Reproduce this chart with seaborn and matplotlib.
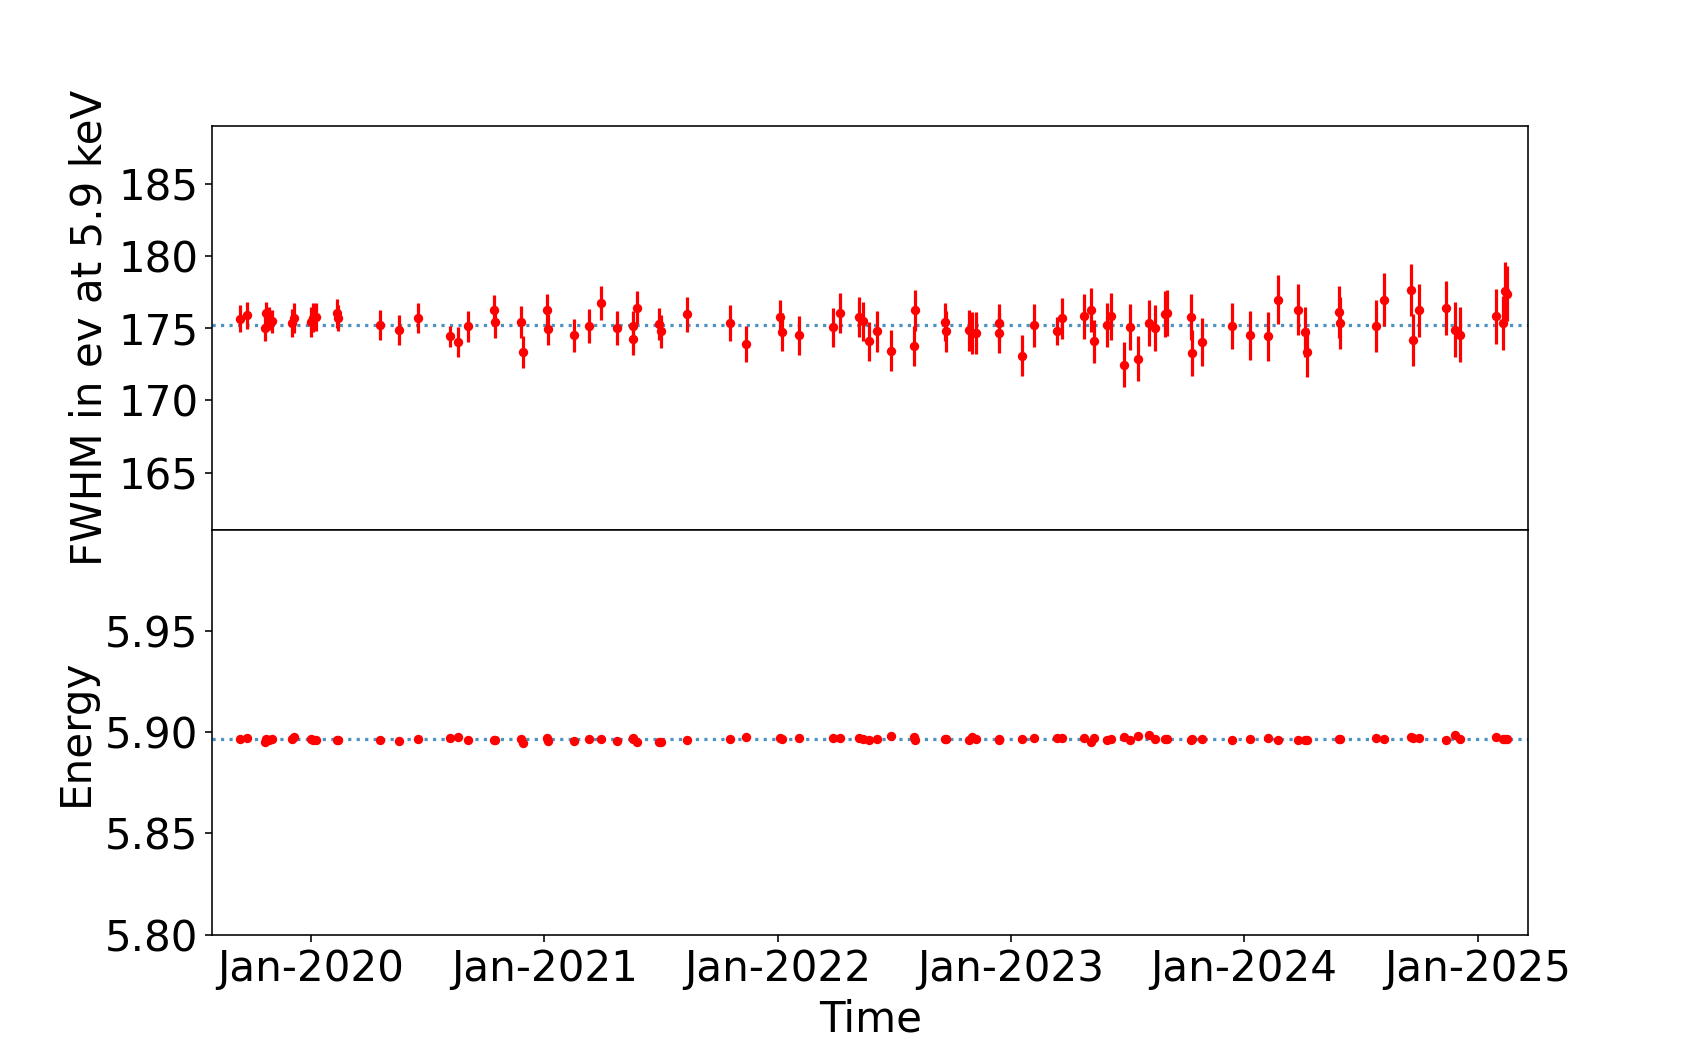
import pandas as pd
import numpy as np
import seaborn as sns
import matplotlib
matplotlib.use("Agg")
import matplotlib.pyplot as plt
import matplotlib.dates as mdates

dates = ['2019-09-12', '2019-09-24', '2019-10-23', '2019-10-22', '2019-10-28', '2019-11-01',
         '2019-12-03', '2019-12-06', '2020-01-01', '2020-01-05', '2020-01-10', '2020-02-11',
         '2020-02-13', '2020-04-19', '2020-05-18', '2020-06-17', '2020-08-06', '2020-08-19',
         '2020-09-03', '2020-10-14', '2020-10-15', '2020-11-25', '2020-11-29', '2021-01-05',
         '2021-01-07', '2021-02-16', '2021-03-11', '2021-03-30', '2021-04-24', '2021-05-19',
         '2021-05-20', '2021-05-26', '2021-06-30', '2021-07-02', '2021-08-12', '2021-10-18',
         '2021-11-13', '2022-01-04', '2022-01-08', '2022-02-04', '2022-03-29', '2022-04-08',
         '2022-05-08', '2022-05-15', '2022-05-24', '2022-06-06', '2022-06-28', '2022-08-02',
         '2022-08-04', '2022-09-20', '2022-09-22', '2022-10-28', '2022-11-01', '2022-11-08',
         '2022-12-13', '2022-12-14', '2023-01-18', '2023-02-07', '2023-03-15', '2023-03-22',
         '2023-04-25', '2023-05-07', '2023-05-12', '2023-05-31', '2023-06-07', '2023-06-28',
         '2023-07-06', '2023-07-19', '2023-08-05', '2023-08-15', '2023-08-31', '2023-09-03',
         '2023-10-10', '2023-10-12', '2023-10-28', '2023-12-13', '2024-01-10', '2024-02-08',
         '2024-02-23', '2024-03-25', '2024-04-05', '2024-04-09', '2024-05-29', '2024-05-30',
         '2024-07-25', '2024-08-08', '2024-09-19', '2024-09-21', '2024-10-01', '2024-11-12',
         '2024-11-27', '2024-12-05', '2025-01-30', '2025-02-09', '2025-02-12', '2025-02-16']

fwhm = [175.65, 175.88, 176.04, 175.03, 175.65, 175.47, 175.35, 175.69, 175.42, 175.72,
        175.76, 176.04, 175.72, 175.23, 174.89, 175.69, 174.44, 174.03, 175.14, 176.23,
        175.42, 175.42, 173.33, 176.23, 174.91, 174.49, 175.14, 176.72, 175.00, 175.12,
        174.24, 176.42, 175.30, 174.77, 175.95, 175.37, 173.87, 175.76, 174.72, 174.49,
        175.07, 176.04, 175.76, 175.49, 174.10, 174.77, 173.45, 173.75, 176.23, 175.42,
        174.77, 174.84, 174.66, 174.66, 174.65, 175.35, 173.10, 175.19, 174.80, 175.69,
        175.81, 176.28, 174.08, 175.23, 175.81, 172.46, 175.07, 172.87, 175.37, 175.03,
        175.99, 176.04, 175.76, 173.26, 174.03, 175.12, 174.49, 174.42, 176.97, 176.28,
        174.72, 173.33, 176.11, 175.35, 175.12, 176.97, 177.67, 174.19, 176.23, 176.39,
        174.89, 174.54, 175.81, 175.35, 177.57, 177.39]

fwhm_err = [0.93, 0.96, 0.80, 0.93, 0.80, 0.80, 0.95, 1.04, 1.06, 1.00,
            0.97, 1.00, 0.90, 1.04, 1.05, 1.06, 0.74, 1.06, 1.08, 1.06,
            1.10, 1.13, 1.09, 1.10, 1.06, 1.15, 1.17, 1.18, 1.19, 1.10,
            1.11, 1.13, 1.10, 1.16, 1.20, 1.26, 1.25, 1.20, 1.30, 1.33,
            1.35, 1.40, 1.39, 1.35, 1.35, 1.39, 1.39, 1.37, 1.40, 1.30,
            1.40, 1.45, 1.43, 1.43, 1.39, 1.30, 1.45, 1.50, 1.00, 1.42,
            1.54, 1.53, 1.50, 1.53, 1.60, 1.55, 1.60, 1.56, 1.60, 1.59,
            1.60, 1.60, 1.60, 1.60, 1.65, 1.60, 1.70, 1.70, 1.70, 1.76,
            1.74, 1.71, 1.79, 1.80, 1.80, 1.83, 1.80, 1.80, 1.83, 1.90,
            1.90, 1.92, 1.88, 1.88, 2.00, 1.93]

energy = [5.8967, 5.8970, 5.8967, 5.8954, 5.8962, 5.8967, 5.8967, 5.8975, 5.8967, 5.8964,
          5.8962, 5.8964, 5.8964, 5.8960, 5.8959, 5.8965, 5.8972, 5.8977, 5.8964, 5.8964,
          5.8962, 5.8967, 5.8949, 5.8974, 5.8959, 5.8957, 5.8969, 5.8969, 5.8959, 5.8972,
          5.8967, 5.8952, 5.8950, 5.8952, 5.8964, 5.8969, 5.8975, 5.8970, 5.8968, 5.8970,
          5.8974, 5.8970, 5.8972, 5.8968, 5.8960, 5.8965, 5.8982, 5.8979, 5.8962, 5.8969,
          5.8967, 5.8962, 5.8979, 5.8969, 5.8964, 5.8967, 5.8969, 5.8972, 5.8972, 5.8972,
          5.8972, 5.8954, 5.8974, 5.8964, 5.8969, 5.8975, 5.8962, 5.8982, 5.8989, 5.8967,
          5.8969, 5.8969, 5.8964, 5.8969, 5.8969, 5.8964, 5.8969, 5.8974, 5.8964, 5.8964,
          5.8962, 5.8962, 5.8967, 5.8967, 5.8970, 5.8967, 5.8975, 5.8972, 5.8974, 5.8960,
          5.8985, 5.8969, 5.8975, 5.8967, 5.8967, 5.8965]

energy_err = 0.0005

df = pd.DataFrame({'Time': pd.to_datetime(dates), 'FWHM': fwhm,
                   'FWHM_err': fwhm_err, 'Energy': energy})

DPI = 144
plt.rcParams['font.size'] = 21
fig, (ax1, ax2) = plt.subplots(2, 1, sharex=True, figsize=(1698 / DPI, 1050 / DPI), dpi=DPI)
fig.subplots_adjust(hspace=0)

# FWHM panel
ax1.axhline(df['FWHM'].mean(), color='tab:blue', ls=':', lw=1.6, alpha=0.8, zorder=1)
ax1.errorbar(df['Time'], df['FWHM'], yerr=df['FWHM_err'], fmt='none',
             ecolor='red', elinewidth=1.6, zorder=2)
sns.scatterplot(data=df, x='Time', y='FWHM', color='red', s=22, linewidth=0,
                ax=ax1, zorder=3)
ax1.set_ylim(161, 189)
ax1.set_yticks([165, 170, 175, 180, 185])
ax1.set_ylabel('FWHM in ev at 5.9 keV')
ax1.set_xlabel('')

# Energy panel
ax2.axhline(df['Energy'].mean(), color='tab:blue', ls=':', lw=1.6, alpha=0.8, zorder=1)
ax2.errorbar(df['Time'], df['Energy'], yerr=energy_err, fmt='none',
             ecolor='red', elinewidth=1.6, zorder=2)
sns.scatterplot(data=df, x='Time', y='Energy', color='red', s=22, linewidth=0,
                ax=ax2, zorder=3)
ax2.set_ylim(5.80, 6.00)
ax2.set_yticks([5.80, 5.85, 5.90, 5.95])
ax2.set_ylabel('Energy')
ax2.set_xlabel('Time')

ax2.set_xlim(pd.Timestamp('2019-07-31'), pd.Timestamp('2025-03-21'))
ax2.xaxis.set_major_locator(mdates.YearLocator())
ax2.xaxis.set_major_formatter(mdates.DateFormatter('%b-%Y'))

fig.savefig('out.png', dpi=DPI)
